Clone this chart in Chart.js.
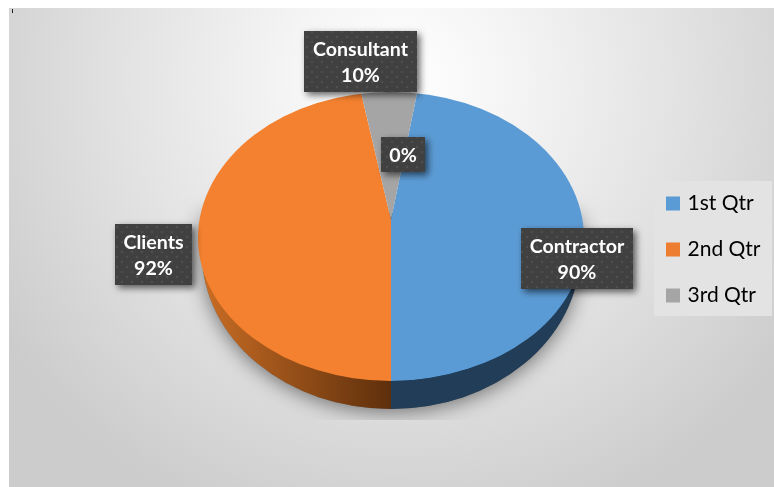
<!DOCTYPE html>
<html><head><meta charset="utf-8">
<style>html,body{margin:0;padding:0;background:#fff}canvas{display:block}#w{width:774px;height:487px;position:relative}</style>
<script src="https://cdn.jsdelivr.net/npm/chart.js@4"></script></head>
<body><div id="w"><canvas id="c" width="774" height="487"></canvas></div>
<script>
const categories = ['1st Qtr','2nd Qtr','3rd Qtr','4th Qtr'];
const values = [90, 92, 10, 0];
const labelNames = ['Contractor','Clients','Consultant',''];
const labelPercents = ['90%','92%','10%','0%'];
const sliceColors = ['#5b9bd5','#f4812f','#a5a5a5','#ffc000'];
const legendColors = ['#5b9bd5','#ed7d31','#a5a5a5','#ffc000'];

const G = {cx:391, apexY:220, top:92, bottom:381, midY:238, rx:193, yScale:0.75, reach:216,
  sideCy:253, sideRx:189, sideBottom:409, shadowLimit:420};
const boxes = [[521,228,112,61],[115,224,77,61],[304,31,113,61],[381,137,44,35]];

const dot = document.createElement('canvas'); dot.width = 10; dot.height = 10;
(function(){const d=dot.getContext('2d');d.fillStyle='#404040';d.fillRect(0,0,10,10);
 d.fillStyle='#4e4e4e';[[2,2],[7,7]].forEach(p=>{d.beginPath();d.arc(p[0],p[1],1.3,0,7);d.fill();});})();

function outline(ctx){
  ctx.beginPath();
  ctx.ellipse(G.cx,G.midY,G.rx,G.midY-G.top,0,Math.PI,2*Math.PI);
  ctx.ellipse(G.cx,G.midY,G.rx,G.bottom-G.midY,0,0,Math.PI);
  ctx.closePath();
}
const pie3d = {
  id:'pie3d',
  beforeDraw(chart){
    const ctx=chart.ctx;
    ctx.save();
    ctx.fillStyle='#fff';ctx.fillRect(0,0,774,487);
    const g=ctx.createRadialGradient(400,80,0,400,80,470);
    g.addColorStop(0,'#ffffff');g.addColorStop(0.25,'#f4f4f4');g.addColorStop(0.6,'#e2e2e2');g.addColorStop(1,'#cccccc');
    ctx.fillStyle=g;ctx.fillRect(9,8,765,479);
    ctx.fillStyle='#222';ctx.fillRect(12,9,1,4);
    ctx.fillStyle='#e3e3e3';ctx.fillRect(654,181,118,135);
    ctx.restore();
  },
  afterLayout(chart){
    const l=chart.legend; const w=l.width,h=l.height;
    l.left=644;l.right=l.left+w;l.top=168;l.bottom=l.top+h;
  },
  beforeDatasetsDraw(chart){
    const ctx=chart.ctx, arcs=chart.getDatasetMeta(0).data, a0=arcs[0];
    const side=(fill)=>{
      ctx.beginPath();
      ctx.ellipse(G.cx,G.sideCy,G.sideRx,G.sideBottom-G.sideCy,0,0,Math.PI);
      ctx.lineTo(G.cx-G.sideRx,G.sideCy-40);ctx.lineTo(G.cx+G.sideRx,G.sideCy-40);ctx.closePath();
      ctx.fillStyle=fill;ctx.fill();
    };
    ctx.save();
    ctx.beginPath();ctx.rect(9,8,765,G.shadowLimit-8);ctx.clip();
    ctx.shadowColor='rgba(0,0,0,0.5)';ctx.shadowBlur=20;ctx.shadowOffsetY=3;
    side('#666');
    ctx.restore();
    const og=ctx.createLinearGradient(G.cx-G.sideRx,0,G.cx,0);
    og.addColorStop(0,'#c96d24');og.addColorStop(1,'#5e2f0c');
    ctx.save();
    ctx.beginPath();ctx.rect(0,0,G.cx,487);ctx.clip();side(og);ctx.restore();
    ctx.save();
    ctx.beginPath();ctx.rect(G.cx,0,774,487);ctx.clip();side('#223d57');ctx.restore();
    const s=G.reach/a0.outerRadius, tilt=-Math.tan((180-(arcs[0].endAngle+Math.PI/2)*180/Math.PI)*Math.PI/180)/G.yScale;
    [[0,0,774,G.apexY,0],[0,G.apexY,774,487,tilt]].forEach(p=>{
      ctx.save();
      outline(ctx);ctx.clip();
      ctx.beginPath();ctx.rect(p[0],p[1],p[2],p[3]-p[1]);ctx.clip();
      ctx.translate(G.cx,G.apexY);
      ctx.transform(1,0,p[4],1,0,0);
      ctx.scale(s,s*G.yScale);
      ctx.translate(-a0.x,-a0.y);
      arcs.forEach(a=>a.draw(ctx));
      ctx.restore();
    });
    return false;
  },
  afterDraw(chart){
    const ctx=chart.ctx;
    boxes.forEach((b,i)=>{
      ctx.save();
      ctx.shadowColor='rgba(0,0,0,0.6)';ctx.shadowBlur=7;ctx.shadowOffsetX=3;ctx.shadowOffsetY=3;
      ctx.fillStyle=ctx.createPattern(dot,'repeat');
      ctx.fillRect(b[0],b[1],b[2],b[3]);
      ctx.restore();
      ctx.save();
      ctx.fillStyle='#fff';ctx.font='bold 19.6px Lato';ctx.textAlign='center';ctx.textBaseline='middle';
      const cx=b[0]+b[2]/2;
      if(labelNames[i]){
        ctx.fillText(labelNames[i],cx,b[1]+18.5);
        ctx.fillText(labelPercents[i],cx,b[1]+44.5);
      } else ctx.fillText(labelPercents[i],cx,b[1]+18.5);
      ctx.restore();
    });
  }
};
new Chart(document.getElementById('c'),{
  type:'pie',
  data:{labels:categories,datasets:[{data:values,backgroundColor:sliceColors,borderWidth:0}]},
  options:{
    responsive:false,animation:false,rotation:8.75,
    layout:{padding:0},
    plugins:{
      title:{display:false},tooltip:{enabled:false},
      legend:{display:true,position:'right',align:'start',
        labels:{
          color:'#404040',font:{family:'Lato',size:21},boxWidth:8,boxHeight:8,padding:25,
          filter:(item)=>values[item.index]>0,
          generateLabels(chart){
            return categories.map((t,i)=>({text:t,index:i,fillStyle:legendColors[i],strokeStyle:legendColors[i],lineWidth:6,hidden:false}));
          }
        }
      }
    }
  },
  plugins:[pie3d]
});
</script></body></html>
